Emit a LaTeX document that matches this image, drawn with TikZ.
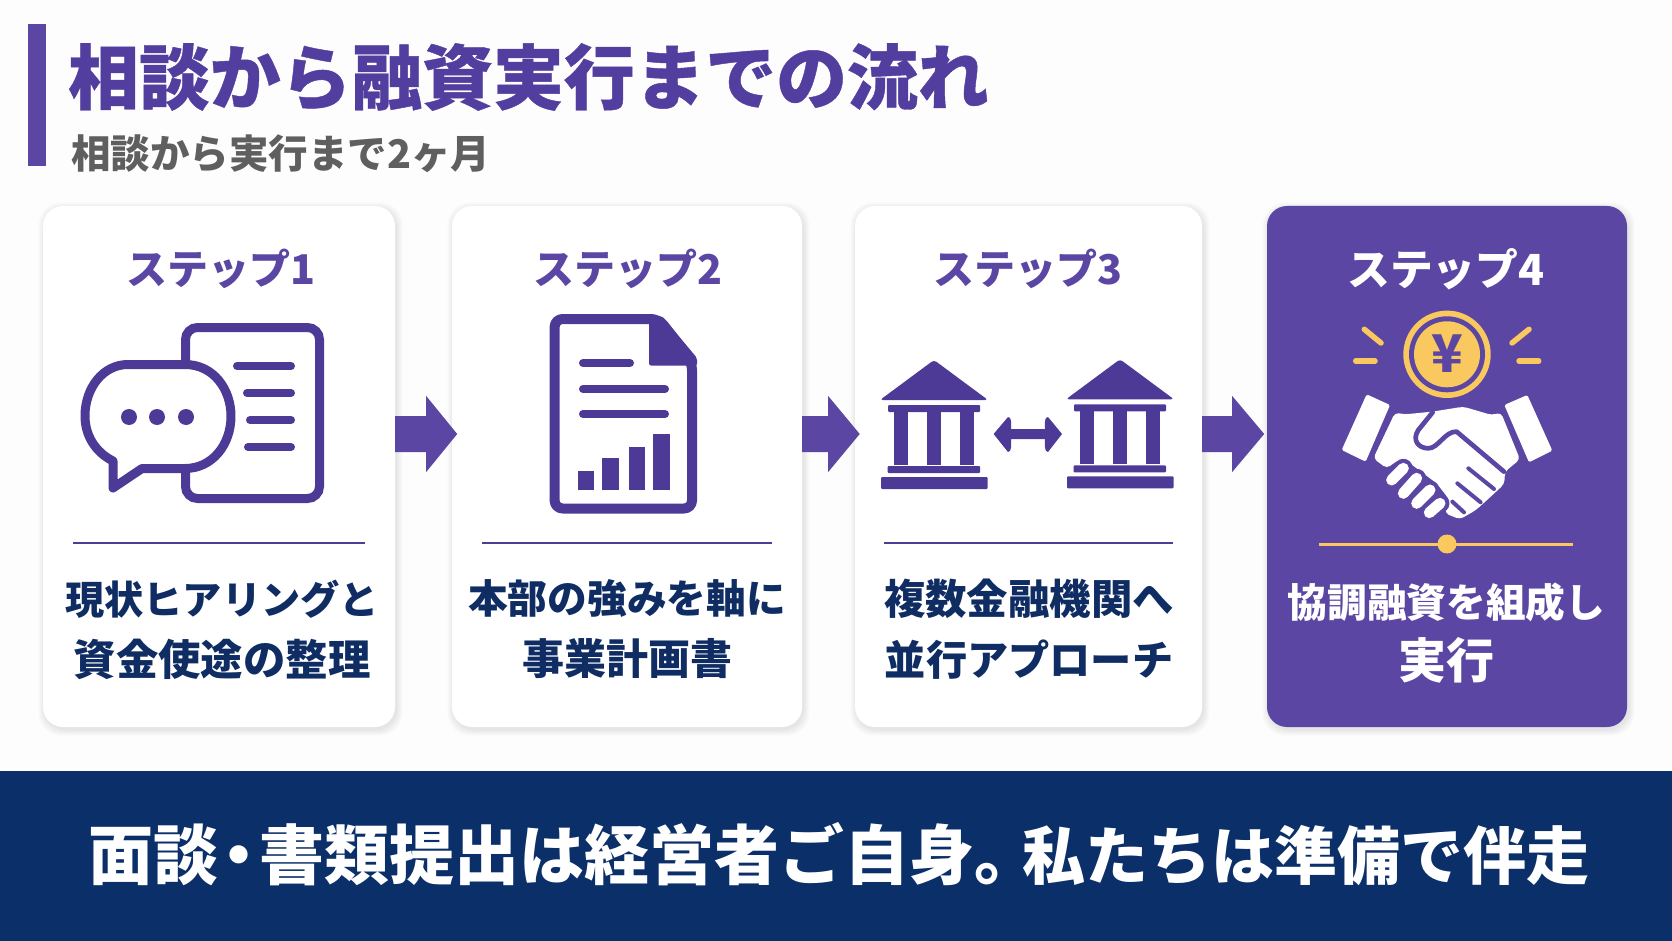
\documentclass[tikz,border=0pt]{standalone}
\usepackage{fontspec}
\usetikzlibrary{calc}
\newfontfamily\jp{Noto Sans CJK JP}[BoldFeatures={FakeBold=0.6}]
\newfontfamily\jpb{Noto Sans CJK JP}
\definecolor{pur}{HTML}{5B47A3}
\definecolor{icon}{HTML}{4D3A96}
\definecolor{titlec}{HTML}{523E9E}
\definecolor{navy}{HTML}{0F2C63}
\definecolor{band}{HTML}{0B2F69}
\definecolor{gold}{HTML}{F9C85F}
\definecolor{sub}{HTML}{5F5F5F}
\definecolor{rulec}{HTML}{4A3F95}
\definecolor{bg}{HTML}{FDFDFE}
\newcommand{\sz}[1]{\fontsize{#1}{61}\selectfont}
\tikzset{
  card/.style={fill=white,rounded corners=20pt,inner sep=0pt,minimum width=#1,minimum height=521pt},
  steplabel/.style={font=\jpb\bfseries\fontsize{41}{42}\selectfont,text=pur,inner sep=0pt,anchor=center},
  body/.style={font=\jpb\bfseries\fontsize{39}{61}\selectfont,text=navy,inner sep=0pt,align=center,anchor=center},
  iconline/.style={draw=icon,line width=8pt,line cap=round},
  arrowfill/.style={fill=pur},
  column/.style={fill=icon},
  ray/.style={draw=gold,line width=5.5pt,line cap=round},
}
\newcommand{\softshadow}[4]{%
  \foreach \i in {0,1,...,7}{
    \fill[black,opacity=0.012,rounded corners=22pt]
      ({#1-\i*0.8+1},{#2-\i*0.8+2}) rectangle ({#3+\i*0.8+2},{#4+\i*0.8+3});
  }}
\newcommand{\blockarrow}[3]{% from node, base offset, tip offset
  \fill[arrowfill] ([yshift=14.5pt]#1.east) -- ++(#2pt,0pt) -- ++(0pt,-20pt) -- ++(#3pt,38pt)
     -- ++(-#3pt,38pt) -- ++(0pt,-20pt) -- ([yshift=50.5pt]#1.east) -- cycle;}
\newcommand{\bank}[2]{%
  \begin{scope}[shift={(#1,#2)}]
    \fill[icon,rounded corners=3pt] (0,360) -- (54,400) -- (-54,400) -- cycle;
    \fill[icon,rounded corners=1pt] (-46,405) rectangle (46,412);
    \fill[column] (-40,412) rectangle (-26,465);
    \fill[column] (-7.5,412) rectangle (7,465);
    \fill[column] (25.6,412) rectangle (40,465);
    \fill[icon,rounded corners=1pt] (-46.5,466) rectangle (46,473);
    \fill[icon,rounded corners=1pt] (-53,477) rectangle (53.6,489);
  \end{scope}}
\begin{document}
\begin{tikzpicture}[x=1pt,y=-1pt]
\useasboundingbox (0,0) rectangle (1672,941);
\fill[bg] (0,0) rectangle (1672,941);
% header
\fill[pur] (28,24) rectangle (45.5,166);
\node[font=\jp\bfseries\fontsize{70.8}{71}\selectfont,text=titlec,inner sep=0pt,anchor=west] (title) at (68,77) {相談から融資実行までの流れ};
\node[font=\jpb\bfseries\fontsize{39.5}{44}\selectfont,text=sub,inner sep=0pt,anchor=west] (subtitle) at (71,154) {相談から実行まで2ヶ月};
% cards
\softshadow{43}{206}{395}{727}
\softshadow{452}{206}{802}{727}
\softshadow{855}{206}{1202}{727}
\softshadow{1267}{206}{1627}{727}
\node[card=352pt] (c1) at (219,466.5) {};
\node[card=350pt] (c2) at (627,466.5) {};
\node[card=347pt] (c3) at (1028.5,466.5) {};
\node[card=360pt,fill=pur] (c4) at (1447,466.5) {};
% connectors
\blockarrow{c1}{31}{31}
\blockarrow{c2}{26}{31.5}
\blockarrow{c3}{30}{32}
% step labels
\node[steplabel] (s1) at (221,269) {ステップ1};
\node[steplabel] (s2) at (628,269) {ステップ2};
\node[steplabel] (s3) at (1028,269) {ステップ3};
\node[steplabel,text=white,font=\jpb\bfseries\fontsize{42.8}{43}\selectfont] (s4) at (1446,269) {ステップ4};
% separators
\draw[rulec,line width=1.6pt] (73,543) -- (365,543);
\draw[rulec,line width=1.6pt] (482,543) -- (772,543);
\draw[rulec,line width=1.6pt] (884,543) -- (1173,543);
\draw[gold,line width=3pt] (1319,544) -- (1573,544);
\fill[gold] (1447,544) circle (9.5);
% body text
\node[body] (b1) at (222,629.5) {\sz{39.2}現状ヒアリングと\\\sz{42.4}資金使途の整理};
\node[body] (b2) at (627,629.5) {\sz{39.7}本部の強みを軸に\\\sz{42}事業計画書};
\node[body] (b3) at (1029,629.5) {\sz{41.4}複数金融機関へ\\\sz{41.2}並行アプローチ};
\node[body,text=white] (b4) at (1446.5,633) {\sz{39.7}協調融資を組成し\\\sz{48}実行};
% icon 1
\draw[icon,line width=9pt,fill=white,rounded corners=12pt] (185.5,327.5) rectangle (319.5,498.5);
\draw[iconline] (237,366) -- (291,366);
\draw[iconline] (247,393) -- (291,393);
\draw[iconline] (250,420) -- (291,420);
\draw[iconline] (248,447) -- (291,447);
\draw[icon,line width=9pt,fill=white,line join=round]
  (128,364.5) -- (185,364.5) .. controls (214,364.5) and (231,390) .. (231,416)
  .. controls (231,445) and (212,468.5) .. (185,468.5) -- (142,468.5) -- (113,488) -- (113,461)
  .. controls (95,452) and (85,435) .. (85,416) .. controls (85,388) and (103,364.5) .. (128,364.5) -- cycle;
\foreach \x in {129,157,186} \fill[icon] (\x,417) circle (8);
% icon 2
\draw[icon,line width=10pt,fill=white,line join=round,rounded corners=8pt]
  (554.6,319) -- (659,319) -- (692,362) -- (692,508.5) -- (554.6,508.5) -- cycle;
\fill[icon,rounded corners=2pt] (649,318) -- (662,316) -- (697,358) -- (697,365.5) -- (649,365.5) -- cycle;
\draw[iconline] (583,363) -- (630,363);
\draw[iconline] (583,389) -- (665,389);
\draw[iconline] (583,414) -- (665,414);
\fill[icon] (578,471) rectangle (594,490);
\fill[icon] (602,458) rectangle (619,490);
\fill[icon] (628.5,447) rectangle (644.6,490);
\fill[icon] (653,434) rectangle (670,490);
% icon 3
\bank{934}{0}
\bank{1120}{-0.7}
\fill[icon,line join=round] (993.6,434) -- (1008,417) .. controls (1012,417) and (1011,424) .. (1011,429)
  -- (1045,429) .. controls (1045,424) and (1044,417) .. (1048,417) -- (1062,434) -- (1048,452)
  .. controls (1044,452) and (1045,444) .. (1045,439) -- (1011,439) .. controls (1011,444) and (1012,452) .. (1008,452) -- cycle;
% icon 4
\fill[gold] (1447,354.3) circle (43.7);
\fill[pur] (1447,354.3) circle (38);
\fill[gold] (1447,354.3) circle (33);
\node[font=\jpb\bfseries\fontsize{52}{52}\selectfont,text=pur,inner sep=0pt] (yen) at (1447,354) {¥};
\draw[ray] (1364.3,329.3) -- (1381,343);
\draw[ray] (1529,329.3) -- (1512,343);
\draw[ray] (1355.7,361) -- (1375,361);
\draw[ray] (1519,361) -- (1538.7,361);
\begin{scope}[shift={(1320,380)},x=0.3333pt,y=-0.3333pt]
  \fill[white,rounded corners=1.5pt] (140,43) -- (210,75) -- (137,245) -- (65,210) -- cycle;
  \fill[white,rounded corners=1.5pt] (622,45) -- (553,75) -- (627,247) -- (697,212) -- cycle;
  \fill[white,rounded corners=4pt] (225,98) -- (255,103) -- (337,95) -- (430,80) -- (515,105) -- (543,98) -- (600,238) -- (555,275)
     -- (553,312) -- (510,352) -- (468,390) -- (420,418) -- (375,400) -- (385,355) -- (350,310) -- (270,250) -- (235,240) -- (200,265) -- (160,235) -- cycle;
  \draw[pur,line width=4.7pt,line join=round,line cap=round]
     (338,97) -- (295,150) .. controls (275,180) and (295,205) .. (325,205)
     .. controls (355,205) and (375,153) .. (410,155) -- (552,275);
  \draw[pur,line width=4pt,line cap=round] (445,265) -- (522,327);
  \draw[pur,line width=4pt,line cap=round] (412,310) -- (482,367);
  \draw[pur,line width=4pt,line cap=round] (397,365) -- (432,397);
  \foreach \a/\b/\c/\d in {360/370/328/398,330/330/290/370,290/295/250/340,250/265/215/300}{
    \draw[pur,line width=19pt,line cap=round] (\a,\b) -- (\c,\d);
  }
  \foreach \a/\b/\c/\d in {360/370/328/398,330/330/290/370,290/295/250/340,250/265/215/300}{
    \draw[white,line width=11pt,line cap=round] (\a,\b) -- (\c,\d);
  }
\end{scope}
% band
\fill[band] (0,771) rectangle (1672,941);
\node[font=\jpb\bfseries\fontsize{65}{65}\selectfont,text=white,inner sep=0pt] (note) at (838.5,854)
  {面談\kern-12pt・\kern-12pt書類提出は経営者ご自身。\kern-17pt{\fontsize{63}{65}\selectfont 私たちは準備で伴走}};
\end{tikzpicture}
\end{document}
